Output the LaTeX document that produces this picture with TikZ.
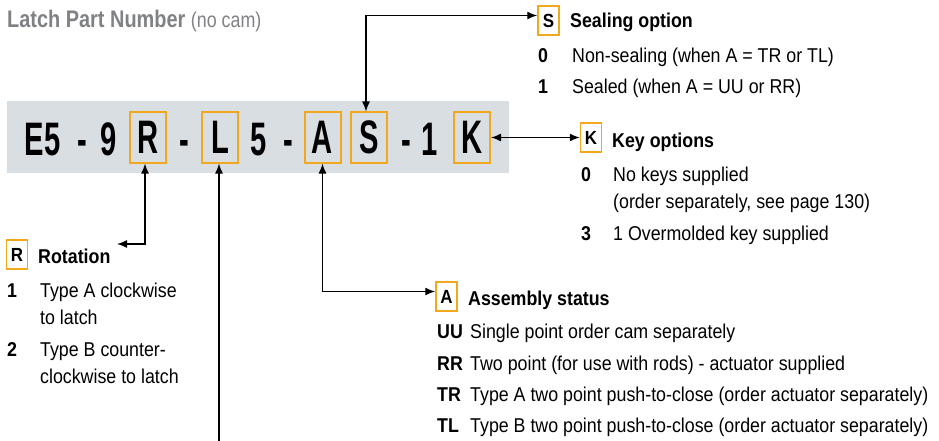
\documentclass[tikz,border=0pt]{standalone}
\usepackage{fontspec}
\setmainfont{Liberation Sans}[FakeStretch=0.89]
\newfontfamily\codefont{Liberation Sans}[FakeStretch=0.62]
\newfontfamily\titlefont{Liberation Sans}[FakeStretch=0.83]
\usetikzlibrary{arrows.meta}
\definecolor{bargrey}{HTML}{D9DEE2}
\definecolor{tagorange}{HTML}{F2A81D}
\definecolor{titlegrey}{HTML}{7F8184}
\tikzset{
	code/.style={font=\codefont\fontsize{47}{47}\selectfont\bfseries, inner sep=0pt},
	codebox/.style={code, draw=tagorange, line width=2pt, minimum width=36pt, minimum height=50pt},
	tag/.style={draw=tagorange, line width=1.5pt, minimum width=21pt, minimum height=29pt, inner sep=0pt, font=\fontsize{19}{19}\selectfont\bfseries},
	head/.style={anchor=base west, inner sep=0pt, font=\fontsize{20}{20}\selectfont\bfseries},
	item/.style={anchor=base west, inner sep=0pt, font=\fontsize{20}{20}\selectfont},
	num/.style={anchor=base west, inner sep=0pt, font=\fontsize{20}{20}\selectfont\bfseries},
	tip/.style={line width=1.4pt, -{Latex[length=10pt,width=8pt]}},
	tips/.style={line width=1.4pt, {Latex[length=10pt,width=8pt]}-{Latex[length=10pt,width=8pt]}},
}
\begin{document}
\begin{tikzpicture}[x=1pt,y=-1pt]
	\useasboundingbox (0,0) rectangle (939,441);
	\node[anchor=base west, inner sep=0pt, text=titlegrey] (title) at (7,28) {\titlefont\fontsize{24}{24}\selectfont\bfseries Latch Part Number \fontsize{21.5}{24}\selectfont\mdseries(no cam)};
	% part number
	\fill[bargrey] (7,101) rectangle (509,173);
	\node[code, anchor=base] (e5) at (42.5,155) {E5};
	\node[code, anchor=base] (d1) at (82,155) {-};
	\node[code, anchor=base] (n9) at (109,155) {9};
	\node[codebox] (R) at (148,137.5) {R};
	\node[code, anchor=base] (d2) at (184,155) {-};
	\node[codebox] (L) at (220,137.5) {L};
	\node[code, anchor=base] (n5) at (258.5,155) {5};
	\node[code, anchor=base] (d3) at (288,155) {-};
	\node[codebox] (A) at (322.5,137.5) {A};
	\node[codebox] (S) at (369,137.5) {S};
	\node[code, anchor=base] (d4) at (406,155) {-};
	\node[code, anchor=base] (n1) at (430,155) {1};
	\node[codebox] (K) at (472,137.5) {K};
	% sealing
	\node[tag] (tS) at (548.5,20.5) {S};
	\node[head] (hS) at (570,28) {Sealing option};
	\node[num] at (538,63) {0};
	\node[item] at (572,63) {Non-sealing (when A = TR or TL)};
	\node[num] at (538,94) {1};
	\node[item] at (572,94) {Sealed (when A = UU or RR)};
	% keys
	\node[tag] (tK) at (591,137.5) {K};
	\node[head] (hK) at (612,147) {Key options};
	\node[num] at (581,181) {0};
	\node[item] at (613,181) {No keys supplied};
	\node[item] at (613,208) {(order separately, see page 130)};
	\node[num] at (581,240) {3};
	\node[item] at (613,240) {1 Overmolded key supplied};
	% rotation
	\node[tag] (tR) at (17,254.5) {R};
	\node[head] (hR) at (38,263) {Rotation};
	\node[num] at (7,297) {1};
	\node[item] at (40,297) {Type A clockwise};
	\node[item] at (40,324) {to latch};
	\node[num] at (7,356) {2};
	\node[item] at (40,356) {Type B counter-};
	\node[item] at (40,383) {clockwise to latch};
	% assembly
	\node[tag] (tA) at (446.5,296.5) {A};
	\node[head] (hA) at (468,305) {Assembly status};
	\node[num] at (437,338) {UU};
	\node[item] at (470,338) {Single point order cam separately};
	\node[num] at (437,370) {RR};
	\node[item] at (470,370) {Two point (for use with rods) - actuator supplied};
	\node[num] at (437,401) {TR};
	\node[item] at (470,401) {Type A two point push-to-close (order actuator separately)};
	\node[num] at (437,432) {TL};
	\node[item] at (470,432) {Type B two point push-to-close (order actuator separately)};
	% connectors
	\coordinate (rEnd) at (117,244);
	\coordinate (lEnd) at (219,441);
	\draw[tips] ([xshift=-3pt]S.north) |- ([yshift=5pt]tS.west);
	\draw[tips] (K.east) -- (tK.west);
	\draw[tips] ([xshift=-3pt]R.south) |- (rEnd);
	\draw[tip] (lEnd) -- (L.south -| lEnd);
	\draw[tips] (A.south) |- ([yshift=5pt]tA.west);
\end{tikzpicture}
\end{document}
